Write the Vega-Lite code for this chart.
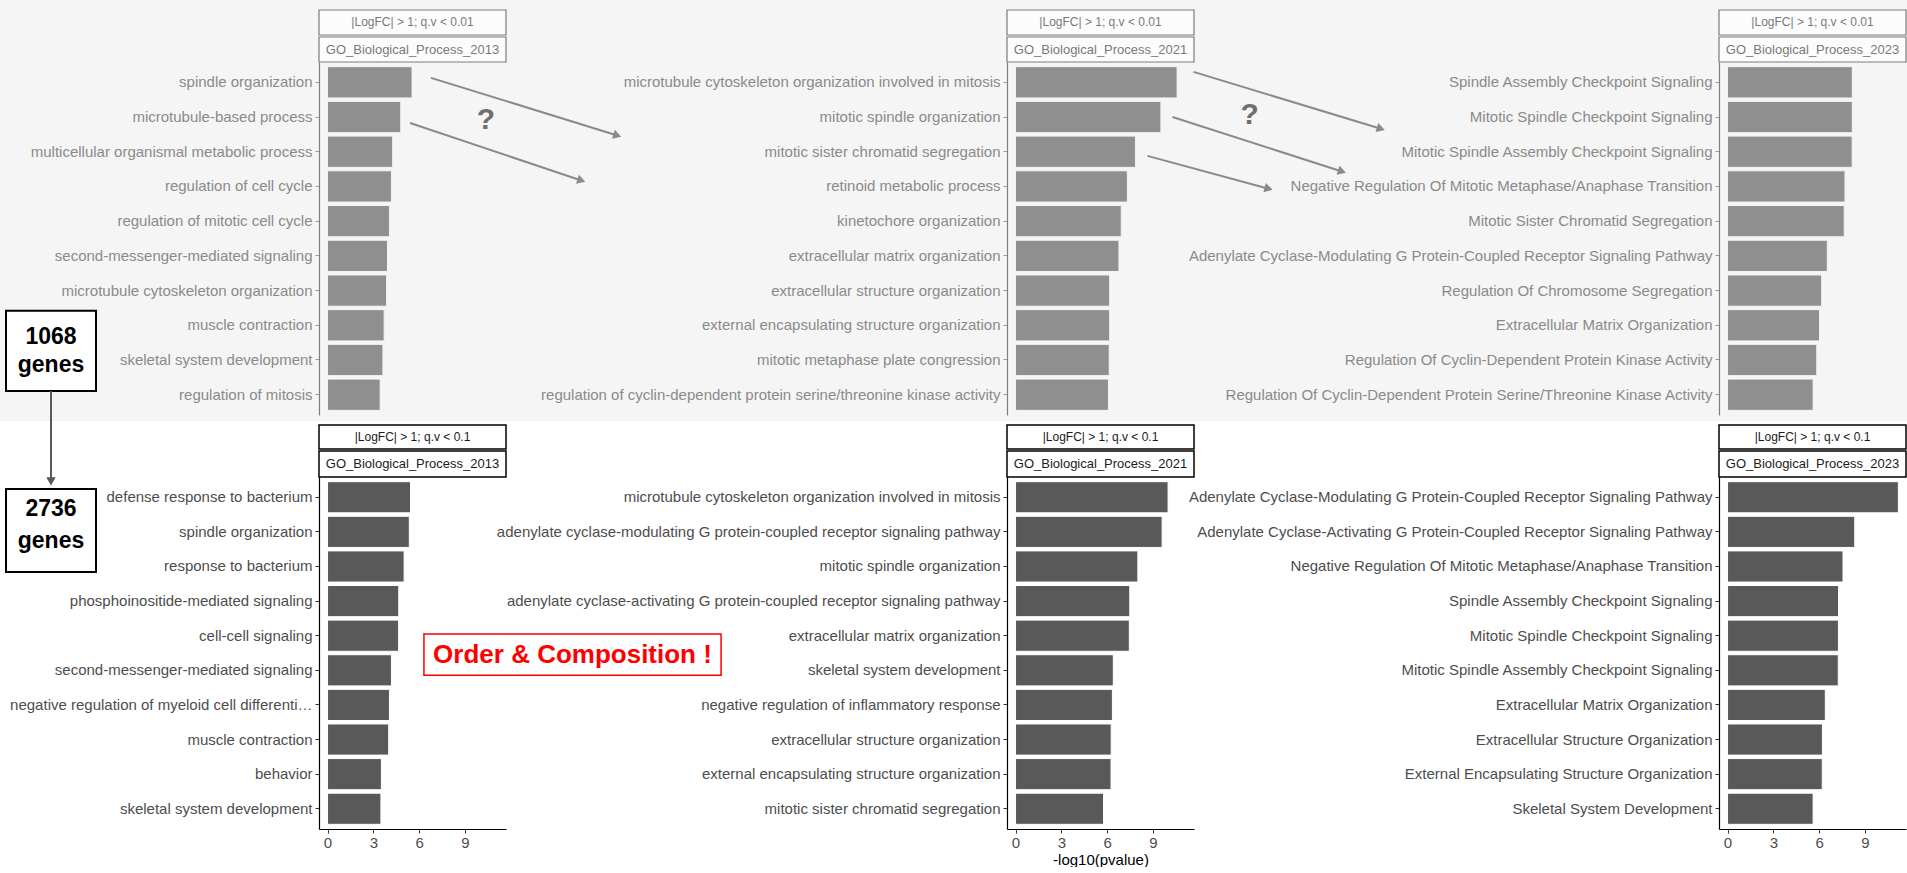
{
"$schema": "https://vega.github.io/schema/vega-lite/v6.json",
"background": "white",
"padding": 0,
"columns": 5,
"align": "each",
"bounds": "flush",
"spacing": {"row": 62, "column": 0},
"config": {"font": "Liberation Sans", "view": {"stroke": null}, "axis": {"grid": false, "zindex": 1}},
"datasets": {"go": [
{"panel":"t13","term":"spindle organization","value":5.54},
{"panel":"t13","term":"microtubule-based process","value":4.80},
{"panel":"t13","term":"multicellular organismal metabolic process","value":4.27},
{"panel":"t13","term":"regulation of cell cycle","value":4.19},
{"panel":"t13","term":"regulation of mitotic cell cycle","value":4.06},
{"panel":"t13","term":"second-messenger-mediated signaling","value":3.93},
{"panel":"t13","term":"microtubule cytoskeleton organization","value":3.87},
{"panel":"t13","term":"muscle contraction","value":3.71},
{"panel":"t13","term":"skeletal system development","value":3.63},
{"panel":"t13","term":"regulation of mitosis","value":3.45},
{"panel":"t21","term":"microtubule cytoskeleton organization involved in mitosis","value":10.59},
{"panel":"t21","term":"mitotic spindle organization","value":9.53},
{"panel":"t21","term":"mitotic sister chromatid segregation","value":7.86},
{"panel":"t21","term":"retinoid metabolic process","value":7.33},
{"panel":"t21","term":"kinetochore organization","value":6.93},
{"panel":"t21","term":"extracellular matrix organization","value":6.78},
{"panel":"t21","term":"extracellular structure organization","value":6.17},
{"panel":"t21","term":"external encapsulating structure organization","value":6.17},
{"panel":"t21","term":"mitotic metaphase plate congression","value":6.14},
{"panel":"t21","term":"regulation of cyclin-dependent protein serine/threonine kinase activity","value":6.09},
{"panel":"t23","term":"Spindle Assembly Checkpoint Signaling","value":8.18},
{"panel":"t23","term":"Mitotic Spindle Checkpoint Signaling","value":8.18},
{"panel":"t23","term":"Mitotic Spindle Assembly Checkpoint Signaling","value":8.17},
{"panel":"t23","term":"Negative Regulation Of Mitotic Metaphase/Anaphase Transition","value":7.70},
{"panel":"t23","term":"Mitotic Sister Chromatid Segregation","value":7.65},
{"panel":"t23","term":"Adenylate Cyclase-Modulating G Protein-Coupled Receptor Signaling Pathway","value":6.54},
{"panel":"t23","term":"Regulation Of Chromosome Segregation","value":6.17},
{"panel":"t23","term":"Extracellular Matrix Organization","value":6.03},
{"panel":"t23","term":"Regulation Of Cyclin-Dependent Protein Kinase Activity","value":5.85},
{"panel":"t23","term":"Regulation Of Cyclin-Dependent Protein Serine/Threonine Kinase Activity","value":5.61},
{"panel":"b13","term":"defense response to bacterium","value":5.44},
{"panel":"b13","term":"spindle organization","value":5.36},
{"panel":"b13","term":"response to bacterium","value":5.02},
{"panel":"b13","term":"phosphoinositide-mediated signaling","value":4.67},
{"panel":"b13","term":"cell-cell signaling","value":4.66},
{"panel":"b13","term":"second-messenger-mediated signaling","value":4.19},
{"panel":"b13","term":"negative regulation of myeloid cell differentiation","value":4.06},
{"panel":"b13","term":"muscle contraction","value":4.01},
{"panel":"b13","term":"behavior","value":3.53},
{"panel":"b13","term":"skeletal system development","value":3.50},
{"panel":"b21","term":"microtubule cytoskeleton organization involved in mitosis","value":10.0},
{"panel":"b21","term":"adenylate cyclase-modulating G protein-coupled receptor signaling pathway","value":9.61},
{"panel":"b21","term":"mitotic spindle organization","value":8.02},
{"panel":"b21","term":"adenylate cyclase-activating G protein-coupled receptor signaling pathway","value":7.49},
{"panel":"b21","term":"extracellular matrix organization","value":7.46},
{"panel":"b21","term":"skeletal system development","value":6.41},
{"panel":"b21","term":"negative regulation of inflammatory response","value":6.35},
{"panel":"b21","term":"extracellular structure organization","value":6.27},
{"panel":"b21","term":"external encapsulating structure organization","value":6.26},
{"panel":"b21","term":"mitotic sister chromatid segregation","value":5.77},
{"panel":"b23","term":"Adenylate Cyclase-Modulating G Protein-Coupled Receptor Signaling Pathway","value":11.2},
{"panel":"b23","term":"Adenylate Cyclase-Activating G Protein-Coupled Receptor Signaling Pathway","value":8.34},
{"panel":"b23","term":"Negative Regulation Of Mitotic Metaphase/Anaphase Transition","value":7.57},
{"panel":"b23","term":"Spindle Assembly Checkpoint Signaling","value":7.28},
{"panel":"b23","term":"Mitotic Spindle Checkpoint Signaling","value":7.27},
{"panel":"b23","term":"Mitotic Spindle Assembly Checkpoint Signaling","value":7.26},
{"panel":"b23","term":"Extracellular Matrix Organization","value":6.41},
{"panel":"b23","term":"Extracellular Structure Organization","value":6.22},
{"panel":"b23","term":"External Encapsulating Structure Organization","value":6.21},
{"panel":"b23","term":"Skeletal System Development","value":5.61}
]},
"concat": [
{"width": 187, "height": 353, "resolve": {"scale": {"y": "independent"}, "axis": {"x": "independent", "y": "independent"}}, "layer": [
 {"data": {"values": [{}]}, "mark": {"type": "rect", "fill": "#f5f5f5"}, "encoding": {"x": {"datum": -21.47, "type": "quantitative", "scale": {"domain": [-0.56, 11.7], "nice": false, "zero": false}, "axis": null}, "x2": {"datum": 103.55}, "y": {"datum": -1.756, "type": "quantitative", "scale": {"domain": [0, 10], "nice": false, "zero": false, "reverse": true}, "axis": null}, "y2": {"datum": 10.17}}},
 {"data": {"values": [{}]}, "mark": {"type": "rect", "fill": "#fcfcfc", "stroke": "#7a7a7a", "strokeWidth": 1.2}, "encoding": {"x": {"datum": -0.56, "type": "quantitative", "scale": {"domain": [-0.56, 11.7], "nice": false, "zero": false}, "axis": null}, "x2": {"datum": 11.7}, "y": {"datum": -1.473, "type": "quantitative", "scale": {"domain": [0, 10], "nice": false, "zero": false, "reverse": true}, "axis": null}, "y2": {"datum": -0.765}}},
 {"data": {"values": [{}]}, "mark": {"type": "text", "text": "|LogFC| > 1; q.v < 0.01", "fontSize": 12, "color": "#7a7a7a"}, "encoding": {"x": {"datum": 5.57, "type": "quantitative", "scale": {"domain": [-0.56, 11.7], "nice": false, "zero": false}, "axis": null}, "y": {"datum": -1.119, "type": "quantitative", "scale": {"domain": [0, 10], "nice": false, "zero": false, "reverse": true}, "axis": null}}},
 {"data": {"values": [{}]}, "mark": {"type": "rect", "fill": "#fcfcfc", "stroke": "#7a7a7a", "strokeWidth": 1.2}, "encoding": {"x": {"datum": -0.56, "type": "quantitative", "scale": {"domain": [-0.56, 11.7], "nice": false, "zero": false}, "axis": null}, "x2": {"datum": 11.7}, "y": {"datum": -0.708, "type": "quantitative", "scale": {"domain": [0, 10], "nice": false, "zero": false, "reverse": true}, "axis": null}, "y2": {"datum": 0}}},
 {"data": {"values": [{}]}, "mark": {"type": "text", "text": "GO_Biological_Process_2013", "fontSize": 13, "color": "#7a7a7a"}, "encoding": {"x": {"datum": 5.57, "type": "quantitative", "scale": {"domain": [-0.56, 11.7], "nice": false, "zero": false}, "axis": null}, "y": {"datum": -0.354, "type": "quantitative", "scale": {"domain": [0, 10], "nice": false, "zero": false, "reverse": true}, "axis": null}}},
 {"data": {"name": "go"}, "transform": [{"filter": "datum.panel == 't13'"}], "mark": {"type": "bar", "fill": "#8f8f8f", "stroke": "#f3f3f3", "strokeWidth": 1}, "encoding": {"y": {"field": "term", "type": "nominal", "sort": null, "scale": {"paddingInner": 0.1, "paddingOuter": 0.135}, "axis": {"orient": "left", "zindex": 2, "title": null, "labelFontSize": 15, "labelColor": "#8a8a8a", "labelLimit": 700, "labelPadding": 3, "tickSize": 4, "tickColor": "#9a9a9a", "domainColor": "#7f7f7f", "domainWidth": 1.2}}, "x": {"field": "value", "type": "quantitative", "scale": {"domain": [-0.56, 11.7], "nice": false, "zero": false}, "axis": null}, "x2": {"datum": 0}}},
 {"data": {"values": [{}]}, "mark": {"type": "rect", "fill": "white", "stroke": "black", "strokeWidth": 2}, "encoding": {"x": {"datum": -21.08, "type": "quantitative", "scale": {"domain": [-0.56, 11.7], "nice": false, "zero": false}, "axis": null}, "x2": {"datum": -15.18}, "y": {"datum": 7.05, "type": "quantitative", "scale": {"domain": [0, 10], "nice": false, "zero": false, "reverse": true}, "axis": null}, "y2": {"datum": 9.32}}},
 {"data": {"values": [{}]}, "mark": {"type": "text", "text": "1068", "fontSize": 23, "fontWeight": "bold", "color": "black"}, "encoding": {"x": {"datum": -18.13, "type": "quantitative", "scale": {"domain": [-0.56, 11.7], "nice": false, "zero": false}, "axis": null}, "y": {"datum": 7.79, "type": "quantitative", "scale": {"domain": [0, 10], "nice": false, "zero": false, "reverse": true}, "axis": null}}},
 {"data": {"values": [{}]}, "mark": {"type": "text", "text": "genes", "fontSize": 23, "fontWeight": "bold", "color": "black"}, "encoding": {"x": {"datum": -18.13, "type": "quantitative", "scale": {"domain": [-0.56, 11.7], "nice": false, "zero": false}, "axis": null}, "y": {"datum": 8.58, "type": "quantitative", "scale": {"domain": [0, 10], "nice": false, "zero": false, "reverse": true}, "axis": null}}},
 {"data": {"values": [{}]}, "mark": {"type": "rule", "color": "#5a5a5a", "strokeWidth": 2}, "encoding": {"x": {"datum": -18.13, "type": "quantitative", "scale": {"domain": [-0.56, 11.7], "nice": false, "zero": false}, "axis": null}, "y": {"datum": 9.32, "type": "quantitative", "scale": {"domain": [0, 10], "nice": false, "zero": false, "reverse": true}, "axis": null}, "y2": {"datum": 11.8}}},
 {"data": {"values": [{}]}, "mark": {"type": "point", "shape": "triangle-down", "filled": true, "size": 90, "color": "#5a5a5a", "opacity": 1}, "encoding": {"x": {"datum": -18.13, "type": "quantitative", "scale": {"domain": [-0.56, 11.7], "nice": false, "zero": false}, "axis": null}, "y": {"datum": 11.88, "type": "quantitative", "scale": {"domain": [0, 10], "nice": false, "zero": false, "reverse": true}, "axis": null}}},
 {"data": {"values": [{}]}, "mark": {"type": "rule", "color": "#8a8a8a", "strokeWidth": 2}, "encoding": {"x": {"datum": 6.78, "type": "quantitative", "scale": {"domain": [-0.56, 11.7], "nice": false, "zero": false}, "axis": null}, "x2": {"datum": 19.0}, "y": {"datum": 0.45, "type": "quantitative", "scale": {"domain": [0, 10], "nice": false, "zero": false, "reverse": true}, "axis": null}, "y2": {"datum": 2.08}}},
 {"data": {"values": [{}]}, "mark": {"type": "point", "shape": "triangle-right", "angle": 17.2, "filled": true, "size": 90, "color": "#8a8a8a", "opacity": 1}, "encoding": {"x": {"datum": 19.0, "type": "quantitative", "scale": {"domain": [-0.56, 11.7], "nice": false, "zero": false}, "axis": null}, "y": {"datum": 2.08, "type": "quantitative", "scale": {"domain": [0, 10], "nice": false, "zero": false, "reverse": true}, "axis": null}}},
 {"data": {"values": [{}]}, "mark": {"type": "rule", "color": "#8a8a8a", "strokeWidth": 2}, "encoding": {"x": {"datum": 5.41, "type": "quantitative", "scale": {"domain": [-0.56, 11.7], "nice": false, "zero": false}, "axis": null}, "x2": {"datum": 16.64}, "y": {"datum": 1.73, "type": "quantitative", "scale": {"domain": [0, 10], "nice": false, "zero": false, "reverse": true}, "axis": null}, "y2": {"datum": 3.355}}},
 {"data": {"values": [{}]}, "mark": {"type": "point", "shape": "triangle-right", "angle": 18.5, "filled": true, "size": 90, "color": "#8a8a8a", "opacity": 1}, "encoding": {"x": {"datum": 16.64, "type": "quantitative", "scale": {"domain": [-0.56, 11.7], "nice": false, "zero": false}, "axis": null}, "y": {"datum": 3.355, "type": "quantitative", "scale": {"domain": [0, 10], "nice": false, "zero": false, "reverse": true}, "axis": null}}},
 {"data": {"values": [{}]}, "mark": {"type": "text", "text": "?", "fontSize": 30, "fontWeight": "bold", "color": "#6e6e6e"}, "encoding": {"x": {"datum": 10.39, "type": "quantitative", "scale": {"domain": [-0.56, 11.7], "nice": false, "zero": false}, "axis": null}, "y": {"datum": 1.64, "type": "quantitative", "scale": {"domain": [0, 10], "nice": false, "zero": false, "reverse": true}, "axis": null}}}
]},
{"width": 501, "height": 1, "data": {"values": []}, "mark": "point", "encoding": {}},
{"width": 187, "height": 353, "resolve": {"scale": {"y": "independent"}, "axis": {"x": "independent", "y": "independent"}}, "layer": [
 {"data": {"values": [{}]}, "mark": {"type": "rect", "fill": "#fcfcfc", "stroke": "#7a7a7a", "strokeWidth": 1.2}, "encoding": {"x": {"datum": -0.56, "type": "quantitative", "scale": {"domain": [-0.56, 11.7], "nice": false, "zero": false}, "axis": null}, "x2": {"datum": 11.7}, "y": {"datum": -1.473, "type": "quantitative", "scale": {"domain": [0, 10], "nice": false, "zero": false, "reverse": true}, "axis": null}, "y2": {"datum": -0.765}}},
 {"data": {"values": [{}]}, "mark": {"type": "text", "text": "|LogFC| > 1; q.v < 0.01", "fontSize": 12, "color": "#7a7a7a"}, "encoding": {"x": {"datum": 5.57, "type": "quantitative", "scale": {"domain": [-0.56, 11.7], "nice": false, "zero": false}, "axis": null}, "y": {"datum": -1.119, "type": "quantitative", "scale": {"domain": [0, 10], "nice": false, "zero": false, "reverse": true}, "axis": null}}},
 {"data": {"values": [{}]}, "mark": {"type": "rect", "fill": "#fcfcfc", "stroke": "#7a7a7a", "strokeWidth": 1.2}, "encoding": {"x": {"datum": -0.56, "type": "quantitative", "scale": {"domain": [-0.56, 11.7], "nice": false, "zero": false}, "axis": null}, "x2": {"datum": 11.7}, "y": {"datum": -0.708, "type": "quantitative", "scale": {"domain": [0, 10], "nice": false, "zero": false, "reverse": true}, "axis": null}, "y2": {"datum": 0}}},
 {"data": {"values": [{}]}, "mark": {"type": "text", "text": "GO_Biological_Process_2021", "fontSize": 13, "color": "#7a7a7a"}, "encoding": {"x": {"datum": 5.57, "type": "quantitative", "scale": {"domain": [-0.56, 11.7], "nice": false, "zero": false}, "axis": null}, "y": {"datum": -0.354, "type": "quantitative", "scale": {"domain": [0, 10], "nice": false, "zero": false, "reverse": true}, "axis": null}}},
 {"data": {"name": "go"}, "transform": [{"filter": "datum.panel == 't21'"}], "mark": {"type": "bar", "fill": "#8f8f8f", "stroke": "#f3f3f3", "strokeWidth": 1}, "encoding": {"y": {"field": "term", "type": "nominal", "sort": null, "scale": {"paddingInner": 0.1, "paddingOuter": 0.135}, "axis": {"orient": "left", "zindex": 2, "title": null, "labelFontSize": 15, "labelColor": "#8a8a8a", "labelLimit": 700, "labelPadding": 3, "tickSize": 4, "tickColor": "#9a9a9a", "domainColor": "#7f7f7f", "domainWidth": 1.2}}, "x": {"field": "value", "type": "quantitative", "scale": {"domain": [-0.56, 11.7], "nice": false, "zero": false}, "axis": null}, "x2": {"datum": 0}}},
 {"data": {"values": [{}]}, "mark": {"type": "rule", "color": "#8a8a8a", "strokeWidth": 2}, "encoding": {"x": {"datum": 11.67, "type": "quantitative", "scale": {"domain": [-0.56, 11.7], "nice": false, "zero": false}, "axis": null}, "x2": {"datum": 23.95}, "y": {"datum": 0.28, "type": "quantitative", "scale": {"domain": [0, 10], "nice": false, "zero": false, "reverse": true}, "axis": null}, "y2": {"datum": 1.89}}},
 {"data": {"values": [{}]}, "mark": {"type": "point", "shape": "triangle-right", "angle": 16.8, "filled": true, "size": 90, "color": "#8a8a8a", "opacity": 1}, "encoding": {"x": {"datum": 23.95, "type": "quantitative", "scale": {"domain": [-0.56, 11.7], "nice": false, "zero": false}, "axis": null}, "y": {"datum": 1.89, "type": "quantitative", "scale": {"domain": [0, 10], "nice": false, "zero": false, "reverse": true}, "axis": null}}},
 {"data": {"values": [{}]}, "mark": {"type": "rule", "color": "#8a8a8a", "strokeWidth": 2}, "encoding": {"x": {"datum": 10.29, "type": "quantitative", "scale": {"domain": [-0.56, 11.7], "nice": false, "zero": false}, "axis": null}, "x2": {"datum": 21.40}, "y": {"datum": 1.56, "type": "quantitative", "scale": {"domain": [0, 10], "nice": false, "zero": false, "reverse": true}, "axis": null}, "y2": {"datum": 3.10}}},
 {"data": {"values": [{}]}, "mark": {"type": "point", "shape": "triangle-right", "angle": 17.8, "filled": true, "size": 90, "color": "#8a8a8a", "opacity": 1}, "encoding": {"x": {"datum": 21.40, "type": "quantitative", "scale": {"domain": [-0.56, 11.7], "nice": false, "zero": false}, "axis": null}, "y": {"datum": 3.10, "type": "quantitative", "scale": {"domain": [0, 10], "nice": false, "zero": false, "reverse": true}, "axis": null}}},
 {"data": {"values": [{}]}, "mark": {"type": "rule", "color": "#8a8a8a", "strokeWidth": 2}, "encoding": {"x": {"datum": 8.65, "type": "quantitative", "scale": {"domain": [-0.56, 11.7], "nice": false, "zero": false}, "axis": null}, "x2": {"datum": 16.59}, "y": {"datum": 2.66, "type": "quantitative", "scale": {"domain": [0, 10], "nice": false, "zero": false, "reverse": true}, "axis": null}, "y2": {"datum": 3.59}}},
 {"data": {"values": [{}]}, "mark": {"type": "point", "shape": "triangle-right", "angle": 15.1, "filled": true, "size": 90, "color": "#8a8a8a", "opacity": 1}, "encoding": {"x": {"datum": 16.59, "type": "quantitative", "scale": {"domain": [-0.56, 11.7], "nice": false, "zero": false}, "axis": null}, "y": {"datum": 3.59, "type": "quantitative", "scale": {"domain": [0, 10], "nice": false, "zero": false, "reverse": true}, "axis": null}}},
 {"data": {"values": [{}]}, "mark": {"type": "text", "text": "?", "fontSize": 30, "fontWeight": "bold", "color": "#6e6e6e"}, "encoding": {"x": {"datum": 15.35, "type": "quantitative", "scale": {"domain": [-0.56, 11.7], "nice": false, "zero": false}, "axis": null}, "y": {"datum": 1.50, "type": "quantitative", "scale": {"domain": [0, 10], "nice": false, "zero": false, "reverse": true}, "axis": null}}}
]},
{"width": 525, "height": 1, "data": {"values": []}, "mark": "point", "encoding": {}},
{"width": 187, "height": 353, "resolve": {"scale": {"y": "independent"}, "axis": {"x": "independent", "y": "independent"}}, "layer": [
 {"data": {"values": [{}]}, "mark": {"type": "rect", "fill": "#fcfcfc", "stroke": "#7a7a7a", "strokeWidth": 1.2}, "encoding": {"x": {"datum": -0.56, "type": "quantitative", "scale": {"domain": [-0.56, 11.7], "nice": false, "zero": false}, "axis": null}, "x2": {"datum": 11.7}, "y": {"datum": -1.473, "type": "quantitative", "scale": {"domain": [0, 10], "nice": false, "zero": false, "reverse": true}, "axis": null}, "y2": {"datum": -0.765}}},
 {"data": {"values": [{}]}, "mark": {"type": "text", "text": "|LogFC| > 1; q.v < 0.01", "fontSize": 12, "color": "#7a7a7a"}, "encoding": {"x": {"datum": 5.57, "type": "quantitative", "scale": {"domain": [-0.56, 11.7], "nice": false, "zero": false}, "axis": null}, "y": {"datum": -1.119, "type": "quantitative", "scale": {"domain": [0, 10], "nice": false, "zero": false, "reverse": true}, "axis": null}}},
 {"data": {"values": [{}]}, "mark": {"type": "rect", "fill": "#fcfcfc", "stroke": "#7a7a7a", "strokeWidth": 1.2}, "encoding": {"x": {"datum": -0.56, "type": "quantitative", "scale": {"domain": [-0.56, 11.7], "nice": false, "zero": false}, "axis": null}, "x2": {"datum": 11.7}, "y": {"datum": -0.708, "type": "quantitative", "scale": {"domain": [0, 10], "nice": false, "zero": false, "reverse": true}, "axis": null}, "y2": {"datum": 0}}},
 {"data": {"values": [{}]}, "mark": {"type": "text", "text": "GO_Biological_Process_2023", "fontSize": 13, "color": "#7a7a7a"}, "encoding": {"x": {"datum": 5.57, "type": "quantitative", "scale": {"domain": [-0.56, 11.7], "nice": false, "zero": false}, "axis": null}, "y": {"datum": -0.354, "type": "quantitative", "scale": {"domain": [0, 10], "nice": false, "zero": false, "reverse": true}, "axis": null}}},
 {"data": {"name": "go"}, "transform": [{"filter": "datum.panel == 't23'"}], "mark": {"type": "bar", "fill": "#8f8f8f", "stroke": "#f3f3f3", "strokeWidth": 1}, "encoding": {"y": {"field": "term", "type": "nominal", "sort": null, "scale": {"paddingInner": 0.1, "paddingOuter": 0.135}, "axis": {"orient": "left", "zindex": 2, "title": null, "labelFontSize": 15, "labelColor": "#8a8a8a", "labelLimit": 700, "labelPadding": 3, "tickSize": 4, "tickColor": "#9a9a9a", "domainColor": "#7f7f7f", "domainWidth": 1.2}}, "x": {"field": "value", "type": "quantitative", "scale": {"domain": [-0.56, 11.7], "nice": false, "zero": false}, "axis": null}, "x2": {"datum": 0}}}
]},
{"width": 187, "height": 352, "resolve": {"scale": {"y": "independent"}, "axis": {"x": "independent", "y": "independent"}}, "layer": [
 {"data": {"values": [{}]}, "mark": {"type": "rect", "fill": "white", "stroke": "black", "strokeWidth": 1.5}, "encoding": {"x": {"datum": -0.56, "type": "quantitative", "scale": {"domain": [-0.56, 11.7], "nice": false, "zero": false}, "axis": null}, "x2": {"datum": 11.7}, "y": {"datum": -1.477, "type": "quantitative", "scale": {"domain": [0, 10], "nice": false, "zero": false, "reverse": true}, "axis": null}, "y2": {"datum": -0.795}}},
 {"data": {"values": [{}]}, "mark": {"type": "text", "text": "|LogFC| > 1; q.v < 0.1", "fontSize": 12, "color": "#1a1a1a"}, "encoding": {"x": {"datum": 5.57, "type": "quantitative", "scale": {"domain": [-0.56, 11.7], "nice": false, "zero": false}, "axis": null}, "y": {"datum": -1.136, "type": "quantitative", "scale": {"domain": [0, 10], "nice": false, "zero": false, "reverse": true}, "axis": null}}},
 {"data": {"values": [{}]}, "mark": {"type": "rect", "fill": "white", "stroke": "black", "strokeWidth": 1.5}, "encoding": {"x": {"datum": -0.56, "type": "quantitative", "scale": {"domain": [-0.56, 11.7], "nice": false, "zero": false}, "axis": null}, "x2": {"datum": 11.7}, "y": {"datum": -0.739, "type": "quantitative", "scale": {"domain": [0, 10], "nice": false, "zero": false, "reverse": true}, "axis": null}, "y2": {"datum": 0}}},
 {"data": {"values": [{}]}, "mark": {"type": "text", "text": "GO_Biological_Process_2013", "fontSize": 13, "color": "#1a1a1a"}, "encoding": {"x": {"datum": 5.57, "type": "quantitative", "scale": {"domain": [-0.56, 11.7], "nice": false, "zero": false}, "axis": null}, "y": {"datum": -0.369, "type": "quantitative", "scale": {"domain": [0, 10], "nice": false, "zero": false, "reverse": true}, "axis": null}}},
 {"data": {"name": "go"}, "transform": [{"filter": "datum.panel == 'b13'"}], "mark": {"type": "bar", "fill": "#595959", "stroke": "white", "strokeWidth": 1}, "encoding": {"y": {"field": "term", "type": "nominal", "sort": null, "scale": {"paddingInner": 0.1, "paddingOuter": 0.135}, "axis": {"orient": "left", "zindex": 2, "title": null, "labelFontSize": 15, "labelColor": "#4d4d4d", "labelLimit": 310, "labelPadding": 3, "tickSize": 4, "tickColor": "#333333", "domainColor": "black", "domainWidth": 1.2}}, "x": {"field": "value", "type": "quantitative", "scale": {"domain": [-0.56, 11.7], "nice": false, "zero": false}, "axis": {"orient": "bottom", "zindex": 2, "values": [0, 3, 6, 9], "title": null, "labelFontSize": 15, "labelColor": "#4d4d4d", "labelPadding": 2, "labelFlush": false, "tickSize": 4, "tickColor": "#333333", "domainColor": "black", "domainWidth": 1.2}}, "x2": {"datum": 0}}},
 {"data": {"values": [{}]}, "mark": {"type": "rect", "fill": "white", "stroke": "black", "strokeWidth": 2}, "encoding": {"x": {"datum": -21.08, "type": "quantitative", "scale": {"domain": [-0.56, 11.7], "nice": false, "zero": false}, "axis": null}, "x2": {"datum": -15.18}, "y": {"datum": 0.34, "type": "quantitative", "scale": {"domain": [0, 10], "nice": false, "zero": false, "reverse": true}, "axis": null}, "y2": {"datum": 2.70}}},
 {"data": {"values": [{}]}, "mark": {"type": "text", "text": "2736", "fontSize": 23, "fontWeight": "bold", "color": "black"}, "encoding": {"x": {"datum": -18.13, "type": "quantitative", "scale": {"domain": [-0.56, 11.7], "nice": false, "zero": false}, "axis": null}, "y": {"datum": 0.91, "type": "quantitative", "scale": {"domain": [0, 10], "nice": false, "zero": false, "reverse": true}, "axis": null}}},
 {"data": {"values": [{}]}, "mark": {"type": "text", "text": "genes", "fontSize": 23, "fontWeight": "bold", "color": "black"}, "encoding": {"x": {"datum": -18.13, "type": "quantitative", "scale": {"domain": [-0.56, 11.7], "nice": false, "zero": false}, "axis": null}, "y": {"datum": 1.82, "type": "quantitative", "scale": {"domain": [0, 10], "nice": false, "zero": false, "reverse": true}, "axis": null}}},
 {"data": {"values": [{}]}, "mark": {"type": "rect", "fill": "white", "stroke": "#ff0000", "strokeWidth": 1.5}, "encoding": {"x": {"datum": 6.32, "type": "quantitative", "scale": {"domain": [-0.56, 11.7], "nice": false, "zero": false}, "axis": null}, "x2": {"datum": 25.80}, "y": {"datum": 4.46, "type": "quantitative", "scale": {"domain": [0, 10], "nice": false, "zero": false, "reverse": true}, "axis": null}, "y2": {"datum": 5.63}}},
 {"data": {"values": [{}]}, "mark": {"type": "text", "text": "Order & Composition !", "fontSize": 26, "fontWeight": "bold", "color": "#ff0000"}, "encoding": {"x": {"datum": 16.06, "type": "quantitative", "scale": {"domain": [-0.56, 11.7], "nice": false, "zero": false}, "axis": null}, "y": {"datum": 5.05, "type": "quantitative", "scale": {"domain": [0, 10], "nice": false, "zero": false, "reverse": true}, "axis": null}}}
]},
{"width": 501, "height": 1, "data": {"values": []}, "mark": "point", "encoding": {}},
{"width": 187, "height": 352, "resolve": {"scale": {"y": "independent"}, "axis": {"x": "independent", "y": "independent"}}, "layer": [
 {"data": {"values": [{}]}, "mark": {"type": "rect", "fill": "white", "stroke": "black", "strokeWidth": 1.5}, "encoding": {"x": {"datum": -0.56, "type": "quantitative", "scale": {"domain": [-0.56, 11.7], "nice": false, "zero": false}, "axis": null}, "x2": {"datum": 11.7}, "y": {"datum": -1.477, "type": "quantitative", "scale": {"domain": [0, 10], "nice": false, "zero": false, "reverse": true}, "axis": null}, "y2": {"datum": -0.795}}},
 {"data": {"values": [{}]}, "mark": {"type": "text", "text": "|LogFC| > 1; q.v < 0.1", "fontSize": 12, "color": "#1a1a1a"}, "encoding": {"x": {"datum": 5.57, "type": "quantitative", "scale": {"domain": [-0.56, 11.7], "nice": false, "zero": false}, "axis": null}, "y": {"datum": -1.136, "type": "quantitative", "scale": {"domain": [0, 10], "nice": false, "zero": false, "reverse": true}, "axis": null}}},
 {"data": {"values": [{}]}, "mark": {"type": "rect", "fill": "white", "stroke": "black", "strokeWidth": 1.5}, "encoding": {"x": {"datum": -0.56, "type": "quantitative", "scale": {"domain": [-0.56, 11.7], "nice": false, "zero": false}, "axis": null}, "x2": {"datum": 11.7}, "y": {"datum": -0.739, "type": "quantitative", "scale": {"domain": [0, 10], "nice": false, "zero": false, "reverse": true}, "axis": null}, "y2": {"datum": 0}}},
 {"data": {"values": [{}]}, "mark": {"type": "text", "text": "GO_Biological_Process_2021", "fontSize": 13, "color": "#1a1a1a"}, "encoding": {"x": {"datum": 5.57, "type": "quantitative", "scale": {"domain": [-0.56, 11.7], "nice": false, "zero": false}, "axis": null}, "y": {"datum": -0.369, "type": "quantitative", "scale": {"domain": [0, 10], "nice": false, "zero": false, "reverse": true}, "axis": null}}},
 {"data": {"name": "go"}, "transform": [{"filter": "datum.panel == 'b21'"}], "mark": {"type": "bar", "fill": "#595959", "stroke": "white", "strokeWidth": 1}, "encoding": {"y": {"field": "term", "type": "nominal", "sort": null, "scale": {"paddingInner": 0.1, "paddingOuter": 0.135}, "axis": {"orient": "left", "zindex": 2, "title": null, "labelFontSize": 15, "labelColor": "#4d4d4d", "labelLimit": 700, "labelPadding": 3, "tickSize": 4, "tickColor": "#333333", "domainColor": "black", "domainWidth": 1.2}}, "x": {"field": "value", "type": "quantitative", "scale": {"domain": [-0.56, 11.7], "nice": false, "zero": false}, "axis": {"orient": "bottom", "zindex": 2, "values": [0, 3, 6, 9], "title": "-log10(pvalue)", "titleFontSize": 15, "titleFontWeight": "normal", "titleColor": "black", "titlePadding": 2, "labelFontSize": 15, "labelColor": "#4d4d4d", "labelPadding": 2, "labelFlush": false, "tickSize": 4, "tickColor": "#333333", "domainColor": "black", "domainWidth": 1.2}}, "x2": {"datum": 0}}}
]},
{"width": 525, "height": 1, "data": {"values": []}, "mark": "point", "encoding": {}},
{"width": 187, "height": 352, "resolve": {"scale": {"y": "independent"}, "axis": {"x": "independent", "y": "independent"}}, "layer": [
 {"data": {"values": [{}]}, "mark": {"type": "rect", "fill": "white", "stroke": "black", "strokeWidth": 1.5}, "encoding": {"x": {"datum": -0.56, "type": "quantitative", "scale": {"domain": [-0.56, 11.7], "nice": false, "zero": false}, "axis": null}, "x2": {"datum": 11.7}, "y": {"datum": -1.477, "type": "quantitative", "scale": {"domain": [0, 10], "nice": false, "zero": false, "reverse": true}, "axis": null}, "y2": {"datum": -0.795}}},
 {"data": {"values": [{}]}, "mark": {"type": "text", "text": "|LogFC| > 1; q.v < 0.1", "fontSize": 12, "color": "#1a1a1a"}, "encoding": {"x": {"datum": 5.57, "type": "quantitative", "scale": {"domain": [-0.56, 11.7], "nice": false, "zero": false}, "axis": null}, "y": {"datum": -1.136, "type": "quantitative", "scale": {"domain": [0, 10], "nice": false, "zero": false, "reverse": true}, "axis": null}}},
 {"data": {"values": [{}]}, "mark": {"type": "rect", "fill": "white", "stroke": "black", "strokeWidth": 1.5}, "encoding": {"x": {"datum": -0.56, "type": "quantitative", "scale": {"domain": [-0.56, 11.7], "nice": false, "zero": false}, "axis": null}, "x2": {"datum": 11.7}, "y": {"datum": -0.739, "type": "quantitative", "scale": {"domain": [0, 10], "nice": false, "zero": false, "reverse": true}, "axis": null}, "y2": {"datum": 0}}},
 {"data": {"values": [{}]}, "mark": {"type": "text", "text": "GO_Biological_Process_2023", "fontSize": 13, "color": "#1a1a1a"}, "encoding": {"x": {"datum": 5.57, "type": "quantitative", "scale": {"domain": [-0.56, 11.7], "nice": false, "zero": false}, "axis": null}, "y": {"datum": -0.369, "type": "quantitative", "scale": {"domain": [0, 10], "nice": false, "zero": false, "reverse": true}, "axis": null}}},
 {"data": {"name": "go"}, "transform": [{"filter": "datum.panel == 'b23'"}], "mark": {"type": "bar", "fill": "#595959", "stroke": "white", "strokeWidth": 1}, "encoding": {"y": {"field": "term", "type": "nominal", "sort": null, "scale": {"paddingInner": 0.1, "paddingOuter": 0.135}, "axis": {"orient": "left", "zindex": 2, "title": null, "labelFontSize": 15, "labelColor": "#4d4d4d", "labelLimit": 700, "labelPadding": 3, "tickSize": 4, "tickColor": "#333333", "domainColor": "black", "domainWidth": 1.2}}, "x": {"field": "value", "type": "quantitative", "scale": {"domain": [-0.56, 11.7], "nice": false, "zero": false}, "axis": {"orient": "bottom", "zindex": 2, "values": [0, 3, 6, 9], "title": null, "labelFontSize": 15, "labelColor": "#4d4d4d", "labelPadding": 2, "labelFlush": false, "tickSize": 4, "tickColor": "#333333", "domainColor": "black", "domainWidth": 1.2}}, "x2": {"datum": 0}}}
]}
]
}
